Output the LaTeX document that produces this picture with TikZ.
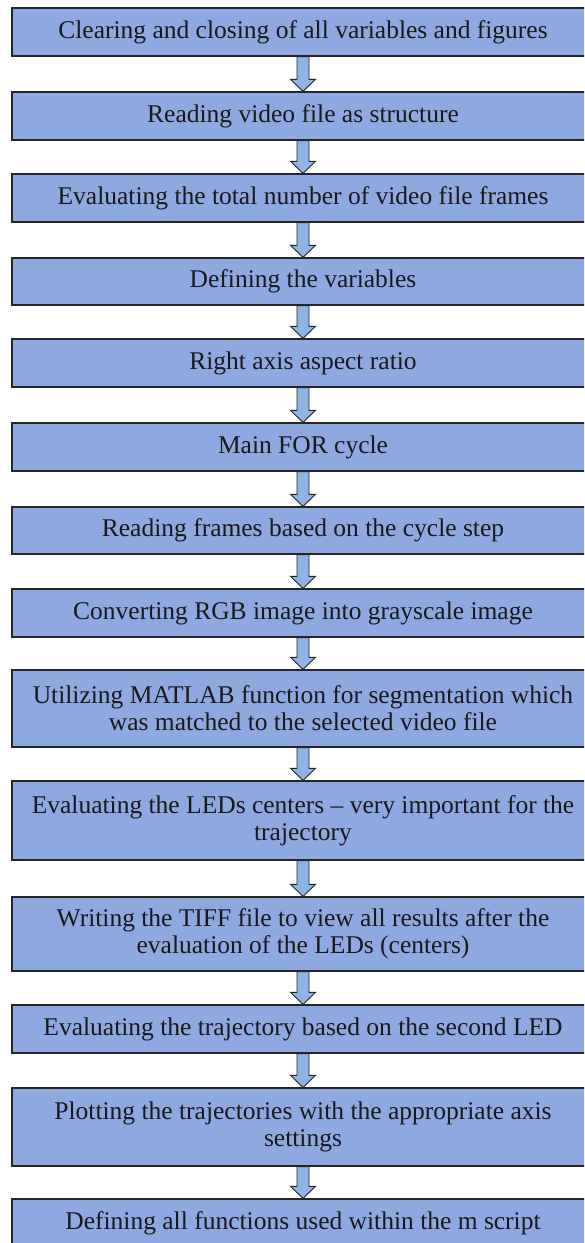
\documentclass[tikz,border=0pt]{standalone}
\usepackage{fontspec}
\setmainfont{Liberation Serif}
\usetikzlibrary{calc}
\definecolor{boxfill}{HTML}{8EA9E0}
\definecolor{arrowfill}{HTML}{8DB4E2}
\definecolor{edge}{HTML}{262626}
\tikzset{
  stepbox/.style={draw=edge, line width=1.3pt, fill=boxfill, minimum width=582pt,
    minimum height=48pt, inner sep=0pt, align=center,
    font=\fontsize{25.5}{27}\selectfont, text=black!90},
  flowarrow/.style={draw=edge, line width=0.9pt, fill=arrowfill, line join=miter}
}
% hollow block arrow from the bottom of one box to the top of the next
\newcommand{\flow}[2]{%
  \draw[flowarrow]
    ($(#1.south)+(-6pt,0)$) -- ($(#2.north)+(-6pt,12pt)$)
    -- ($(#2.north)+(-12.5pt,12pt)$) -- (#2.north)
    -- ($(#2.north)+(12.5pt,12pt)$) -- ($(#2.north)+(6pt,12pt)$)
    -- ($(#1.south)+(6pt,0)$) -- cycle;}
\begin{document}
\begin{tikzpicture}
  \useasboundingbox (0,0) rectangle (584pt,-1243pt);
  \fill[white] (0,0) rectangle (584pt,-1243pt);
  \clip (0,0) rectangle (584pt,-1243pt);

  \node[stepbox] (s1)  at (303pt,-32pt)    {Clearing and closing of all variables and figures};
  \node[stepbox] (s2)  at (303pt,-116pt)   {Reading video file as structure};
  \node[stepbox] (s3)  at (303pt,-198pt)   {Evaluating the total number of video file frames};
  \node[stepbox, minimum height=47pt] (s4)  at (303pt,-281.5pt) {Defining the variables};
  \node[stepbox] (s5)  at (303pt,-363pt)   {Right axis aspect ratio};
  \node[stepbox] (s6)  at (303pt,-447pt)   {Main FOR cycle};
  \node[stepbox, minimum height=47pt] (s7)  at (303pt,-530.5pt) {Reading frames based on the cycle step};
  \node[stepbox] (s8)  at (303pt,-613pt)   {Converting RGB image into grayscale image};
  \node[stepbox, minimum height=77pt] (s9)  at (303pt,-708.5pt) {Utilizing MATLAB function for segmentation which\\was matched to the selected video file};
  \node[stepbox, minimum height=79pt] (s10) at (303pt,-820.5pt) {Evaluating the LEDs centers -- very important for the\\trajectory};
  \node[stepbox, minimum height=74pt] (s11) at (303pt,-934pt)   {Writing the TIFF file to view all results after the\\evaluation of the LEDs (centers)};
  \node[stepbox] (s12) at (303pt,-1029pt)  {Evaluating the trajectory based on the second LED};
  \node[stepbox, minimum height=78pt] (s13) at (303pt,-1127pt)  {Plotting the trajectories with the appropriate axis\\settings};
  \node[stepbox] (s14) at (303pt,-1223pt)  {Defining all functions used within the m script};

  \flow{s1}{s2}
  \flow{s2}{s3}
  \flow{s3}{s4}
  \flow{s4}{s5}
  \flow{s5}{s6}
  \flow{s6}{s7}
  \flow{s7}{s8}
  \flow{s8}{s9}
  \flow{s9}{s10}
  \flow{s10}{s11}
  \flow{s11}{s12}
  \flow{s12}{s13}
  \flow{s13}{s14}
\end{tikzpicture}
\end{document}
